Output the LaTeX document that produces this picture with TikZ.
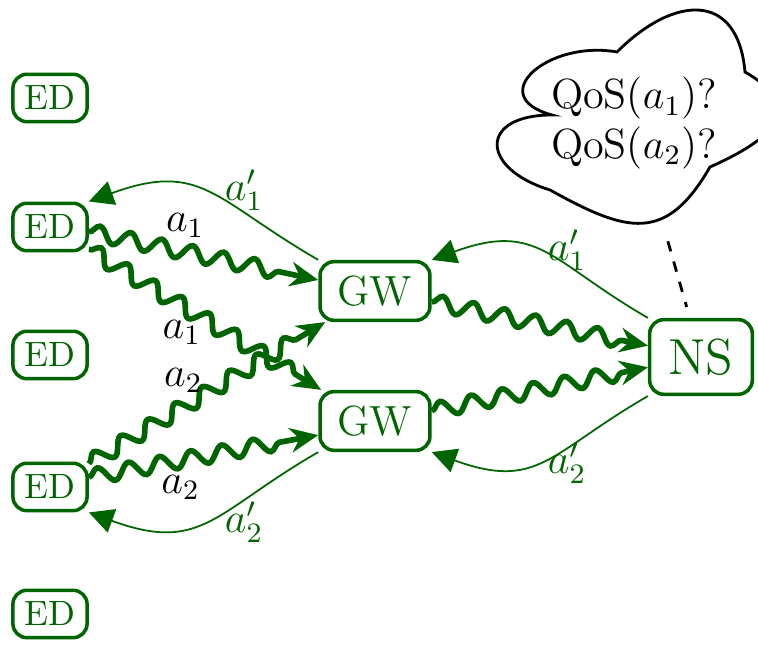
\documentclass[tikz,border=0pt]{standalone}
\usetikzlibrary{decorations.pathmorphing,arrows.meta}
\definecolor{darkgreen}{RGB}{0,100,0}
\begin{document}
\begin{tikzpicture}[
    dev/.style={draw=darkgreen,text=darkgreen,line width=1pt,rounded corners=4pt},
    wave/.style={darkgreen,line width=1.6pt,decorate,decoration={snake,segment length=9pt,amplitude=2.2pt,post length=2.5mm},-{Stealth[length=8pt,width=7pt]}},
    back/.style={darkgreen,line width=0.5pt,-{Triangle[length=7pt,width=7pt]},looseness=1.3},
    lbl/.style={font=\large}]
  \useasboundingbox (0,0) rectangle (7.58,-6.48);

  \foreach \edn/\y in {ed1/-0.98, ed2/-2.27, ed3/-3.55, ed4/-4.87, ed5/-6.14} {
      \node[dev] (\edn) at (0.50,\y) {ED};
  }
  \node[dev,font=\large,inner xsep=5pt,inner ysep=4pt] (gw1) at (3.75,-2.91) {GW};
  \node[dev,font=\large,inner xsep=5pt,inner ysep=4pt] (gw2) at (3.75,-4.21) {GW};
  \node[dev,font=\Large,inner sep=5.4pt] (ns) at (7.01,-3.57) {NS};

  % cloud
  \coordinate (c1) at (5.52,-1.15);\coordinate (c2) at (6.17,-0.52);\coordinate (c3) at (7.45,-0.72);\coordinate (c4) at (7.10,-1.67);\coordinate (c5) at (5.50,-1.90);
  \draw[thick] (c1) to[out=165,in=170,looseness=2] (c2) to[out=45,in=95,looseness=1.6] (c3) to[out=-30,in=24,looseness=1.8] (c4) to[out=240,in=-29,looseness=1.4] (c5) to[out=163,in=180,looseness=2.5] (c1) -- cycle;
  \node[font=\large,align=center] (qos) at (6.34,-1.23) {QoS($a_1$)?\\QoS($a_2$)?};

  % uplinks
  \draw[wave] (ed2.-7) -- node[lbl,text=black,above,pos=0.42] (u1) {$a_1$} (gw1.169);
  \draw[wave] (ed2.-30) -- node[lbl,text=black,below,pos=0.4] (u2) {$a_1$} (gw2.150);
  \draw[wave] (ed4.31) -- node[lbl,text=black,above,pos=0.4] (u3) {$a_2$} (gw1.212);
  \draw[wave] (ed4.14) -- node[lbl,text=black,below,pos=0.4] (u4) {$a_2$} (gw2.194);
  \draw[wave] (gw1.-11) -- (ns.168);
  \draw[wave] (gw2.10) -- (ns.191);

  % downlinks
  \draw[back] (gw1.north west) to[out=150,in=20] node[lbl,above,pos=0.3,yshift=-3pt] (d1) {$a_1'$} (ed2.north east);
  \draw[back] (gw2.south west) to[out=210,in=-20] node[lbl,below,pos=0.3,yshift=3pt] (d2) {$a_2'$} (ed4.south east);
  \draw[back] (ns.north west) to[out=150,in=20] node[lbl,above,pos=0.36,yshift=-5pt] (d3) {$a_1'$} (gw1.north east);
  \draw[back] (ns.south west) to[out=210,in=-20] node[lbl,below,pos=0.36,yshift=5pt] (d4) {$a_2'$} (gw2.south east);

  \draw[thick,dashed,shorten <=1.23cm,shorten >=0.52cm] (qos.center) -- (ns.center);
\end{tikzpicture}
\end{document}
